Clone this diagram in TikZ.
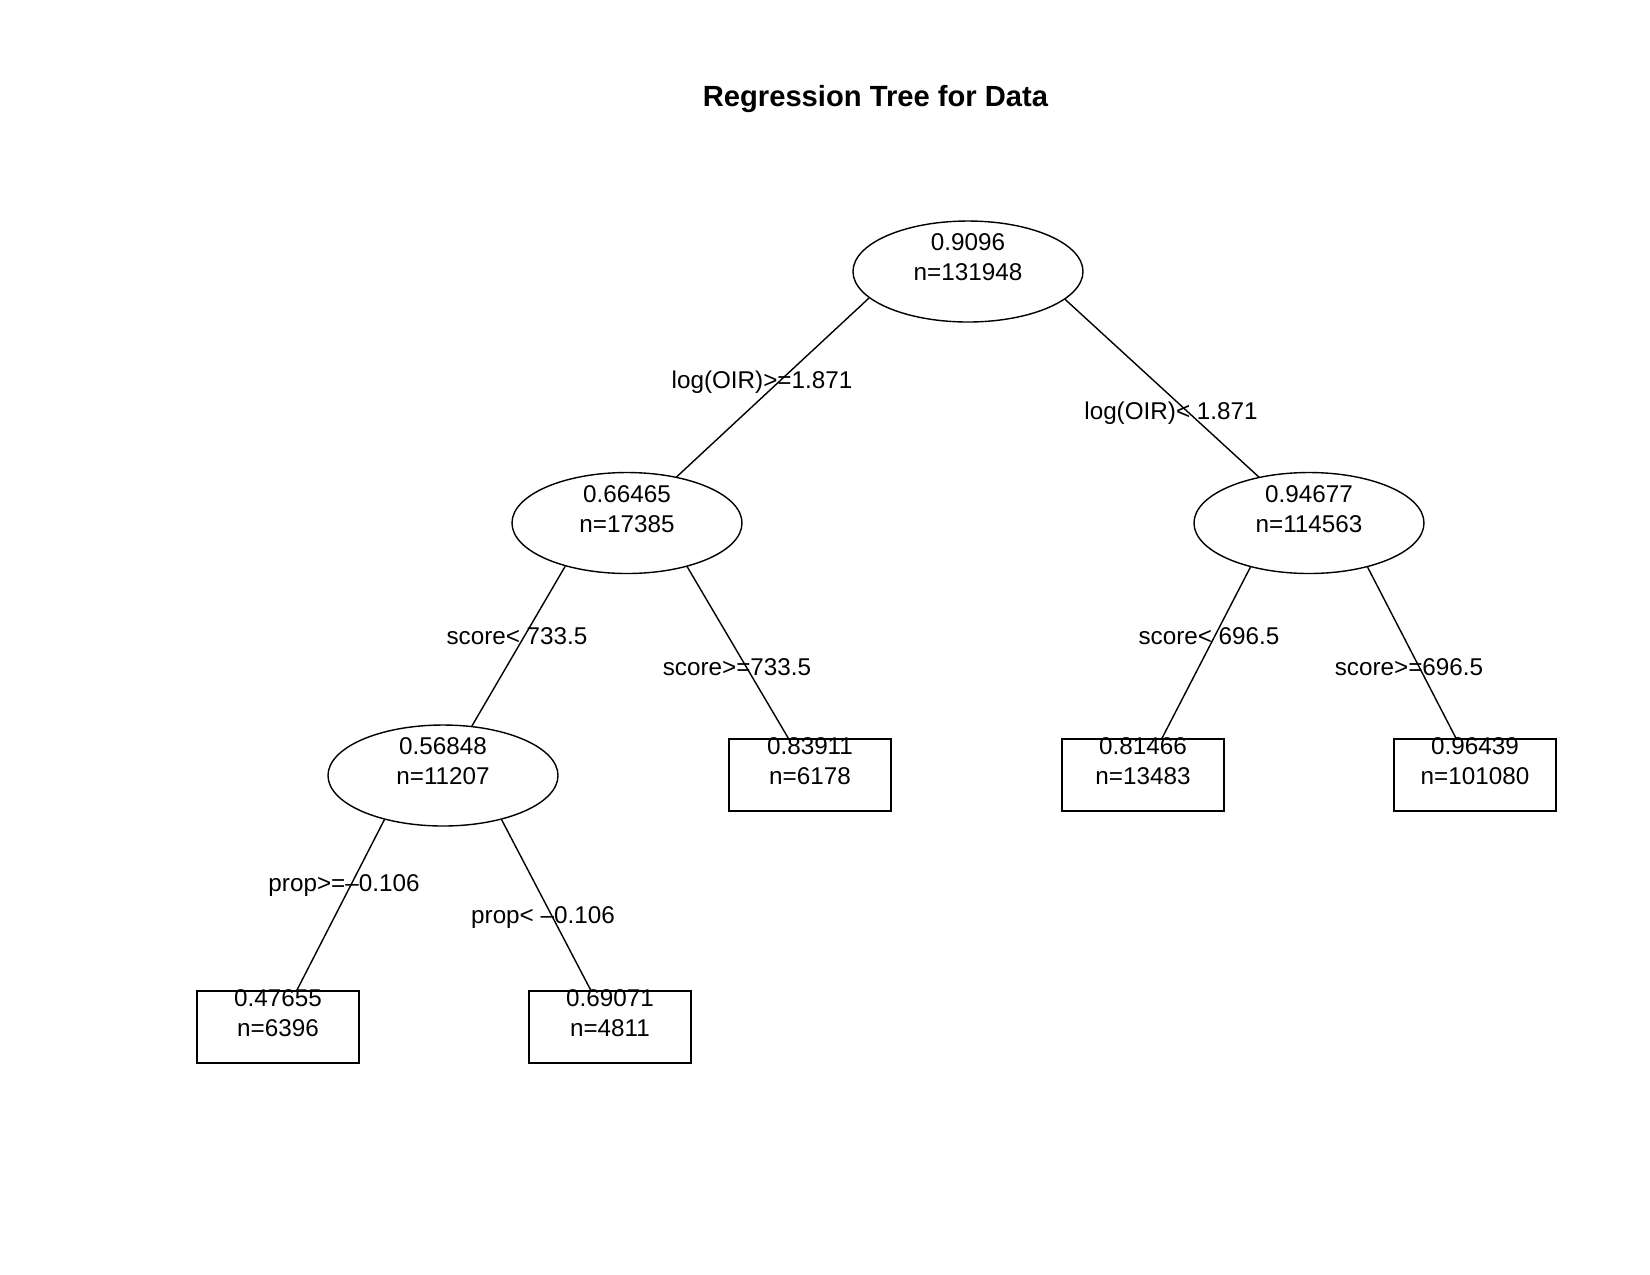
\documentclass[tikz,border=0pt]{standalone}
\usepackage{fontspec}
\setmainfont{Liberation Sans}
\usetikzlibrary{shapes.geometric,backgrounds}

\begin{document}
\begin{tikzpicture}[
    split/.style={
        ellipse, draw=black, fill=white, line width=0.4pt,
        minimum width=2.30cm, minimum height=1.01cm, inner sep=0pt
    },
    leaf/.style={
        rectangle, draw=black, fill=white, line width=0.4pt,
        minimum width=1.62cm, minimum height=0.72cm, inner sep=0pt
    },
    val/.style={
        align=center, inner sep=0pt,
        font=\fontsize{6.9}{8.5}\selectfont
    },
    rule/.style={inner sep=0pt, font=\fontsize{6.9}{8.5}\selectfont},
    branch/.style={line width=0.4pt, draw=black},
]

\useasboundingbox (0,0) rectangle (16.5,-12.75);

% ── Title ────────────────────────────────────────────────────
\node[font=\fontsize{8.3}{10}\selectfont\bfseries] (title) at (8.755,-0.99) {Regression Tree for Data};

% ── Split nodes (ellipses) ───────────────────────────────────
\node[split] (root) at (9.68,-2.715) {};
\node[split] (n2)   at (6.27,-5.23)  {};
\node[split] (n3)   at (13.09,-5.23) {};
\node[split] (n4)   at (4.43,-7.755) {};

% ── Leaves (boxes) ───────────────────────────────────────────
\node[leaf] (n5) at (8.10,-7.75)  {};
\node[leaf] (n6) at (11.43,-7.75) {};
\node[leaf] (n7) at (14.75,-7.75) {};
\node[leaf] (n8) at (2.78,-10.27) {};
\node[leaf] (n9) at (6.10,-10.27) {};

% ── Branches (behind the nodes) ──────────────────────────────
\begin{pgfonlayer}{background}
\draw[branch] (root.195.7) -- (n2.center);
\draw[branch] (root.344.3) -- (n3.center);
\draw[branch] (n2.215.4) -- (n4.center);
\draw[branch] (n2.324.8) -- (n5.center);
\draw[branch] (n3.217.8) -- (n6.center);
\draw[branch] (n3.323.0) -- (n7.center);
\draw[branch] (n4.217.8) -- (n8.center);
\draw[branch] (n4.323.3) -- (n9.center);
\end{pgfonlayer}

% ── Node values ──────────────────────────────────────────────
\node[val] (rootT) at ([yshift=1.4mm]root.center) {0.9096\\n=131948};
\node[val] (n2T)   at ([yshift=1.4mm]n2.center)   {0.66465\\n=17385};
\node[val] (n3T)   at ([yshift=1.4mm]n3.center)   {0.94677\\n=114563};
\node[val] (n4T)   at ([yshift=1.4mm]n4.center)   {0.56848\\n=11207};
\node[val] (n5T)   at ([yshift=1.4mm]n5.center)   {0.83911\\n=6178};
\node[val] (n6T)   at ([yshift=1.4mm]n6.center)   {0.81466\\n=13483};
\node[val] (n7T)   at ([yshift=1.4mm]n7.center)   {0.96439\\n=101080};
\node[val] (n8T)   at ([yshift=1.4mm]n8.center)   {0.47655\\n=6396};
\node[val] (n9T)   at ([yshift=1.4mm]n9.center)   {0.69071\\n=4811};

% ── Split rules ──────────────────────────────────────────────
\node[rule] (r2) at (7.62,-3.82)   {log(OIR)>=1.871};
\node[rule] (r3) at (11.71,-4.135) {log(OIR)< 1.871};
\node[rule] (r4) at (5.17,-6.36)   {score< 733.5};
\node[rule] (r5) at (7.37,-6.67)   {score>=733.5};
\node[rule] (r6) at (12.09,-6.36)  {score< 696.5};
\node[rule] (r7) at (14.09,-6.67)  {score>=696.5};
\node[rule] (r8) at (3.44,-8.86)   {prop>=–0.106};
\node[rule] (r9) at (5.43,-9.175)  {prop< –0.106};

\end{tikzpicture}
\end{document}
